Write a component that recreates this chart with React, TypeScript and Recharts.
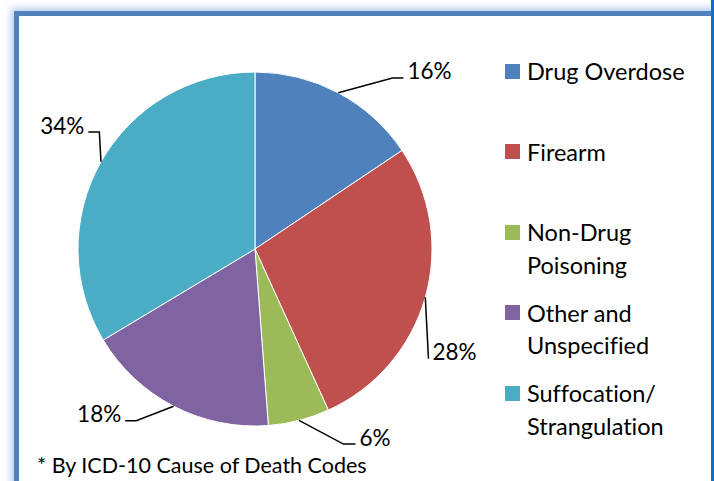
import React from "react";
import { PieChart, Pie, Cell, Legend } from "recharts";

const categories = [
  "Drug Overdose",
  "Firearm",
  "Non-Drug Poisoning",
  "Other and Unspecified",
  "Suffocation/ Strangulation",
];
const shares = [15.6, 27.6, 5.6, 17.6, 33.6];
const colors = ["#4F81BD", "#C0504D", "#9BBB59", "#8064A2", "#4BACC6"];
const footnote = "* By ICD-10 Cause of Death Codes";

// where each leader line bends: angle shift (deg, clockwise), radius factor, tail length
const leaders = [
  { shift: 10.7, r: 1.24, tail: 11 },
  { shift: 16.5, r: 1.16, tail: 0 },
  { shift: -10, r: 1.21, tail: 12 },
  { shift: 7.3, r: 1.18, tail: -11 },
  { shift: 7.4, r: 1.1, tail: -11 },
];

const data = categories.map((name, i) => ({ name, value: shares[i] }));

const FONT = "Lato, 'Noto Sans', sans-serif";
const RAD = Math.PI / 180;

function renderLabel(props: any) {
  const { cx, cy, midAngle, outerRadius, percent, index } = props;
  const lead = leaders[index];
  const sx = cx + outerRadius * Math.cos(-midAngle * RAD);
  const sy = cy + outerRadius * Math.sin(-midAngle * RAD);
  const a = midAngle - lead.shift;
  const ex = cx + outerRadius * lead.r * Math.cos(-a * RAD);
  const ey = cy + outerRadius * lead.r * Math.sin(-a * RAD);
  const tx = ex + lead.tail;
  const right = lead.tail >= 0;
  return (
    <g>
      <polyline
        points={`${sx},${sy} ${ex},${ey} ${tx},${ey}`}
        fill="none"
        stroke="#000"
        strokeWidth={1.5}
      />
      <text
        x={right ? tx + 4 : tx - 4}
        y={ey - 7}
        textAnchor={right ? "start" : "end"}
        dominantBaseline="central"
        fill="#000"
        fontSize={22.5}
        fontFamily={FONT}
      >
        {`${Math.round(percent * 100)}%`}
      </text>
    </g>
  );
}

function renderLegend(props: any) {
  const { payload } = props;
  return (
    <div style={{ fontFamily: FONT, fontSize: 23.5, color: "#000", fontVariantLigatures: "none" }}>
      {payload.map((p: any, i: number) => (
        <div key={i} style={{ display: "flex", height: 80.5, alignItems: "flex-start" }}>
          <div
            style={{
              width: 15,
              height: 15,
              background: p.color,
              marginTop: 8.5,
              marginRight: 7,
              flex: "none",
            }}
          />
          <div style={{ width: 175, lineHeight: "32.5px" }}>{p.value}</div>
        </div>
      ))}
    </div>
  );
}

export default function App() {
  return (
    <div style={{ position: "absolute", left: 0, top: 0, width: 714, height: 481, overflow: "hidden", background: "#fff" }}>
      <div
        style={{
          position: "absolute",
          left: 14,
          top: 11,
          width: 700,
          height: 520,
          borderTop: "5px solid #4F81BD",
          borderLeft: "5px solid #4F81BD",
          boxShadow: "0 0 7px 3px rgba(120,170,225,0.55)",
          background: "#fff",
        }}
      />
      <div style={{ position: "absolute", left: 711, top: 0, width: 3, height: 481, background: "#0F6FC6" }} />
      <div style={{ position: "absolute", left: 0, top: 0 }}>
        <PieChart width={711} height={481} margin={{ top: 0, right: 0, bottom: 0, left: 0 }}>
          <Pie
            data={data}
            dataKey="value"
            nameKey="name"
            cx={255}
            cy={249}
            outerRadius={177}
            startAngle={90}
            endAngle={-270}
            stroke="#fff"
            strokeWidth={1}
            label={renderLabel}
            labelLine={false}
            isAnimationActive={false}
          >
            {data.map((d, i) => (
              <Cell key={d.name} fill={colors[i]} />
            ))}
          </Pie>
          <Legend
            content={renderLegend}
            layout="vertical"
            wrapperStyle={{ position: "absolute", left: 505, top: 55, width: 205 }}
          />
        </PieChart>
      </div>
      <div
        style={{
          position: "absolute",
          left: 37,
          top: 451,
          fontFamily: FONT,
          fontSize: 21.5,
          color: "#000",
          lineHeight: "28px",
        }}
      >
        {footnote}
      </div>
    </div>
  );
}
